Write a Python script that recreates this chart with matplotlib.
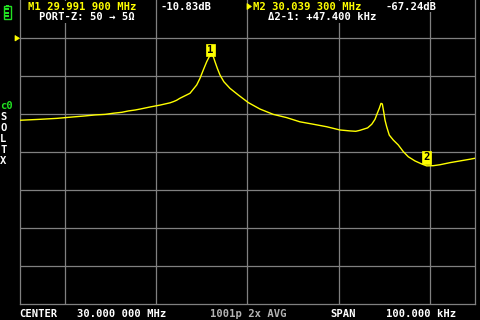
import matplotlib
matplotlib.use("Agg")
import matplotlib.pyplot as plt
from matplotlib.patches import Rectangle, Polygon

# ---- data (frequency offset from 30.000 MHz centre, kHz ; S21 log-mag, dB) ----
freq_offset_khz = [-50.0, -45.6, -41.9, -38.6, -36.1, -33.5, -31.3, -29.5, -27.6,
                   -26.2, -24.7, -23.6, -22.4, -21.4, -20.3, -19.2, -18.1, -17.0,
                   -16.3, -15.6, -14.84, -12.64, -11.16, -10.44, -9.71, -8.97, -8.40,
                   -7.87, -7.52, -7.14, -6.64, -6.04, -5.20, -3.85, -2.02, 0.18,
                   2.75, 5.67, 8.6, 11.5, 14.5, 17.4, 20.3, 22.5, 23.8, 24.7, 26.4,
                   27.3, 28.02, 28.53, 28.97, 29.34, 29.63, 29.93, 30.22, 30.59,
                   31.16, 32.04, 33.14, 34.24, 35.34, 36.81, 38.29, 39.38, 40.84,
                   42.31, 44.51, 46.70, 48.90, 50.0]
s21_db = [-43.3, -42.8, -42.3, -41.6, -41.1, -40.5, -40.2, -39.6, -39.1,
          -38.4, -37.9, -37.4, -36.8, -36.3, -35.8, -35.3, -34.7, -34.1,
          -33.5, -32.8, -31.7, -29.1, -24.7, -21.2, -16.8, -12.5, -9.8,
          -8.9, -9.8, -12.5, -15.9, -19.5, -23.0, -26.5, -30.0, -34.0,
          -37.4, -40.2, -41.9, -44.1, -45.4, -46.7, -48.4, -48.9, -49.1, -48.6, -47.3,
          -45.4, -42.8, -39.6, -37.0, -34.4, -34.7, -38.8, -43.2, -46.7,
          -51.1, -53.7, -56.3, -59.8, -62.5, -64.7, -66.3, -67.3, -67.2,
          -66.7, -65.6, -64.7, -63.8, -63.3]

x_grid_khz = [-40, -20, 0, 20, 40]
y_grid_db = [0, -20, -40, -60, -80, -100, -120]

marker_ids = ["1", "2"]
marker_freq_khz = [-8.1, 39.3]
marker_db = [-10.83, -67.24]

header_m1 = "M1 29.991 900 MHz"
header_m1_val = "-10.83dB"
header_portz = "PORT-Z: 50 \u2192 5\u03a9"
header_m2 = "M2 30.039 300 MHz"
header_m2_val = "-67.24dB"
header_delta = "\u03942-1: +47.400 kHz"
footer = [("CENTER", 19, "white"), ("30.000 000 MHz", 77, "white"),
          ("1001p 2x AVG", 210, "#b4b4b4"), ("SPAN", 330, "white"),
          ("100.000 kHz", 386, "white")]
cal_letters = ["S", "O", "L", "T", "X"]

YEL = "#ffff00"
GRID = "#808080"
GREEN = "#22e022"
FONT = dict(family="DejaVu Sans Mono", fontweight="bold", fontsize=7.6)

fig = plt.figure(figsize=(4.8, 3.2), dpi=100, facecolor="black")
ax = fig.add_axes([20 / 480, 16 / 320, 455 / 480, 304 / 320])
ax.set_facecolor("black")
ax.set_xlim(-50, 50)
ax.set_ylim(-140, 20)
ax.set_xticks(x_grid_khz)
ax.set_yticks(y_grid_db)
ax.tick_params(length=0, labelbottom=False, labelleft=False)
ax.grid(True, color=GRID, linewidth=0.9)
for s in ["left", "right", "bottom"]:
    ax.spines[s].set_color(GRID)
    ax.spines[s].set_linewidth(0.9)
ax.spines["top"].set_visible(False)

ax.plot(freq_offset_khz, s21_db, color=YEL, linewidth=1.0, zorder=3)

for mid, mf, md in zip(marker_ids, marker_freq_khz, marker_db):
    ax.annotate(mid, xy=(mf, md), xytext=(0, 8.5), textcoords="offset pixels",
                ha="center", va="center", color="black", zorder=5,
                bbox=dict(boxstyle="square,pad=0.12", fc=YEL, ec=YEL, lw=0.5),
                **FONT)

# ---- overlay in screen pixel coordinates ----
ov = fig.add_axes([0, 0, 1, 1])
ov.set_xlim(0, 480)
ov.set_ylim(320, 0)
ov.axis("off")
ov.patch.set_alpha(0)

bb = dict(boxstyle="square,pad=0.05", fc="black", ec="none")
ov.text(28, 6.5, header_m1, color=YEL, ha="left", va="center", bbox=bb, **FONT)
ov.text(160, 6.5, header_m1_val, color="white", ha="left", va="center", bbox=bb, **FONT)
ov.text(39, 17, header_portz, color="white", ha="left", va="center", bbox=bb, **FONT)
ov.add_patch(Polygon([[247, 3.5], [247, 9.5], [251.5, 6.5]], closed=True, fc=YEL, ec=YEL, lw=0.5))
ov.text(253.3, 6.5, header_m2, color=YEL, ha="left", va="center", bbox=bb, **FONT)
ov.text(385.7, 6.5, header_m2_val, color="white", ha="left", va="center", bbox=bb, **FONT)
ov.text(268.3, 17, header_delta, color="white", ha="left", va="center", bbox=bb, **FONT)

for txt, x, c in footer:
    ov.text(x, 313.8, txt, color=c, ha="left", va="center", **FONT)

# battery icon
ov.add_patch(Rectangle((3.5, 6.2), 7, 12.5, fill=False, ec=GREEN, lw=1.0))
ov.add_patch(Rectangle((5.5, 4.6), 3, 1.6, fc=GREEN, ec="none"))
for yb in [8.0, 11.5, 15.0]:
    ov.add_patch(Rectangle((5.3, yb), 3.4, 2.4, fc=GREEN, ec="none"))

# reference-level marker
ov.add_patch(Polygon([[15, 35.5], [15, 41], [19.5, 38.3]], closed=True, fc=YEL, ec=YEL, lw=0.5))

# calibration status
ov.text(0, 105.7, "c0", color=GREEN, ha="left", va="center", **FONT)
for i, L in enumerate(cal_letters):
    ov.text(3.2, 116.8 + i * 11, L, color="white", ha="center", va="center", **FONT)

fig.savefig("out.png", dpi=100, facecolor="black")
